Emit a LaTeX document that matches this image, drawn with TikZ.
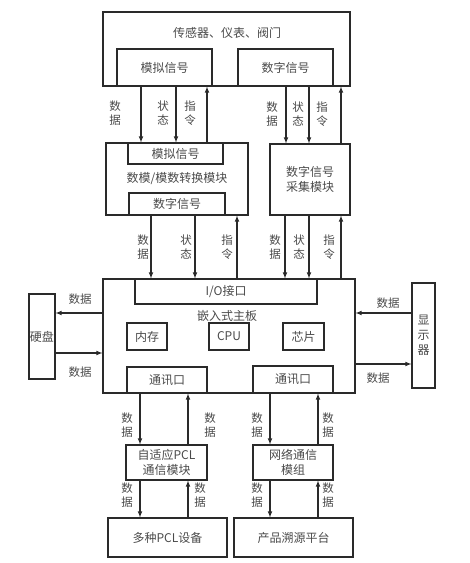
\documentclass[tikz,border=0pt]{standalone}
\usepackage{fontspec}
\setmainfont{Noto Sans CJK SC}
\usetikzlibrary{arrows}
\definecolor{txtgray}{HTML}{4A4A4A}
\definecolor{linegray}{HTML}{2A2A2A}
\tikzset{
  box/.style={draw=linegray, line width=1.1pt, inner sep=0pt, align=center,
    text=txtgray, font=\fontsize{12}{15}\selectfont},
  lbl/.style={text=txtgray, inner sep=0pt, align=center,
    font=\fontsize{11.5}{13.5}\selectfont},
  link/.style={-latex, draw=linegray, line width=1.1pt},
}
\begin{document}
\begin{tikzpicture}[x=1pt,y=-1pt]
\useasboundingbox (0,0) rectangle (470,563);
% sensors
\node[box, minimum width=247, minimum height=74] (sensor) at (226.5,49) {};
\node[lbl, font=\fontsize{12}{15}\selectfont] (sensortxt) at (227,33) {传感器、仪表、阀门};
\node[box, minimum width=95, minimum height=37] (asig) at (164.5,67.5) {模拟信号};
\node[box, minimum width=95, minimum height=37] (dsig) at (285.5,67.5) {数字信号};
% converters
\node[box, minimum width=142, minimum height=72] (adconv) at (177,179) {数模/模数转换模块};
\node[box, minimum width=95, minimum height=21] (adin) at (175.5,153.5) {模拟信号};
\node[box, minimum width=96, minimum height=22] (adout) at (177,204) {数字信号};
\node[box, minimum width=80, minimum height=71] (dacq) at (310,179.5) {数字信号\\采集模块};
% main board
\node[box, minimum width=252, minimum height=114] (board) at (229,336) {};
\node[lbl, font=\fontsize{12}{15}\selectfont] (boardtxt) at (227,316) {嵌入式主板};
\node[box, minimum width=182, minimum height=25] (io) at (226,291.5) {I/O接口};
\node[box, minimum width=40, minimum height=27] (mem) at (147,336.5) {内存};
\node[box, minimum width=40, minimum height=27] (cpu) at (229,336.5) {CPU};
\node[box, minimum width=41, minimum height=27] (chip) at (303.5,336.5) {芯片};
\node[box, minimum width=80, minimum height=26] (comml) at (167,380) {通讯口};
\node[box, minimum width=80, minimum height=27] (commr) at (293,379.5) {通讯口};
\node[box, minimum width=26, minimum height=85] (disk) at (42,336.5) {硬盘};
\node[box, minimum width=23, minimum height=105, font=\fontsize{12}{15}\selectfont] (disp) at (423.5,335.5) {显\\示\\器};
% lower modules
\node[box, minimum width=81, minimum height=35] (plc) at (166.5,462.5) {自适应PCL\\通信模块};
\node[box, minimum width=80, minimum height=35] (net) at (293,462.5) {网络通信\\模组};
\node[box, minimum width=119, minimum height=39] (plcdev) at (167.5,537.5) {多种PCL设备};
\node[box, minimum width=119, minimum height=39] (trace) at (293.5,537.5) {产品溯源平台};

% sensor <-> converters
\draw[link] (141,0 |- asig.south) -- (141,0 |- adin.north);
\draw[link] (176,0 |- asig.south) -- (176,0 |- adin.north);
\draw[link] (207,0 |- adin.north) -- (207,0 |- asig.south);
\draw[link] (286,0 |- dsig.south) -- (286,0 |- dacq.north);
\draw[link] (309,0 |- dsig.south) -- (309,0 |- dacq.north);
\draw[link] (341,0 |- dacq.north) -- (341,0 |- sensor.south);
\node[lbl] (la1) at (115,113) {数\\据};
\node[lbl] (la2) at (163,113) {状\\态};
\node[lbl] (la3) at (190,113) {指\\令};
\node[lbl] (lb1) at (272,114) {数\\据};
\node[lbl] (lb2) at (298,114) {状\\态};
\node[lbl] (lb3) at (322,114) {指\\令};

% converters <-> board
\draw[link] (151,0 |- adout.south) -- (151,0 |- io.north);
\draw[link] (195,0 |- adout.south) -- (195,0 |- io.north);
\draw[link] (237,0 |- io.north) -- (237,0 |- adconv.south);
\draw[link] (285,0 |- dacq.south) -- (285,0 |- io.north);
\draw[link] (309,0 |- dacq.south) -- (309,0 |- io.north);
\draw[link] (341,0 |- board.north) -- (341,0 |- dacq.south);
\node[lbl] (lc1) at (143,247) {数\\据};
\node[lbl] (lc2) at (186,247) {状\\态};
\node[lbl] (lc3) at (227,247) {指\\令};
\node[lbl] (ld1) at (275,247) {数\\据};
\node[lbl] (ld2) at (299,247) {状\\态};
\node[lbl] (ld3) at (329,247) {指\\令};

% disk and display
\draw[link] (board.west |- 0,313) -- (disk.east |- 0,313);
\draw[link] (disk.east |- 0,353) -- (board.west |- 0,353);
\draw[link] (disp.west |- 0,313) -- (board.east |- 0,313);
\draw[link] (board.east |- 0,364) -- (disp.west |- 0,364);
\node[lbl] (le1) at (80,299) {数据};
\node[lbl] (le2) at (80,372) {数据};
\node[lbl] (le3) at (388,303) {数据};
\node[lbl] (le4) at (378,378) {数据};

% board <-> lower modules
\draw[link] (140,0 |- comml.south) -- (140,0 |- plc.north);
\draw[link] (188,0 |- plc.north) -- (188,0 |- comml.south);
\draw[link] (270,0 |- commr.south) -- (270,0 |- net.north);
\draw[link] (318,0 |- net.north) -- (318,0 |- commr.south);
\node[lbl] (lf1) at (127,425) {数\\据};
\node[lbl] (lf2) at (210,425) {数\\据};
\node[lbl] (lf3) at (257,425) {数\\据};
\node[lbl] (lf4) at (328,425) {数\\据};

% modules <-> devices
\draw[link] (140,0 |- plc.south) -- (140,0 |- plcdev.north);
\draw[link] (188,0 |- plcdev.north) -- (188,0 |- plc.south);
\draw[link] (270,0 |- net.south) -- (270,0 |- trace.north);
\draw[link] (318,0 |- trace.north) -- (318,0 |- net.south);
\node[lbl] (lg1) at (127,495) {数\\据};
\node[lbl] (lg2) at (200,495) {数\\据};
\node[lbl] (lg3) at (257,495) {数\\据};
\node[lbl] (lg4) at (328,495) {数\\据};
\end{tikzpicture}
\end{document}
